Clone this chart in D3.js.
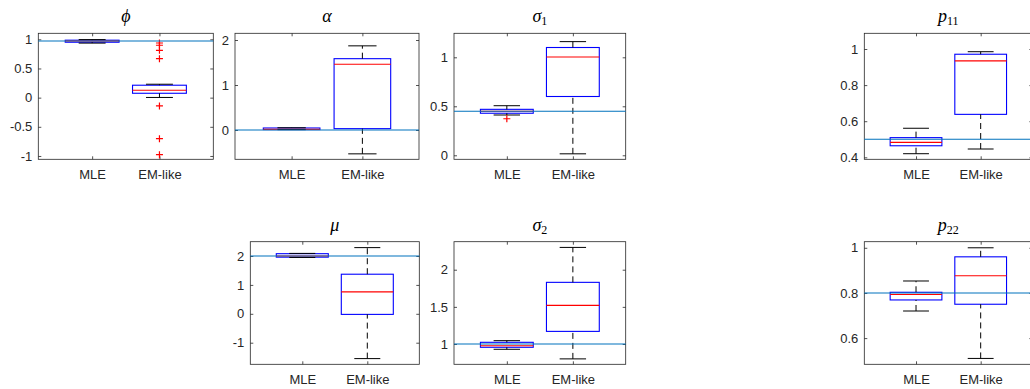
<!DOCTYPE html>
<html lang="en">
<head>
    <meta charset="UTF-8">
    <title>MLE vs EM-like</title>
    <script src="https://d3js.org/d3.v7.min.js"></script>
    <style>
        body { margin: 0; background: #fff; }
        text { font-family: "Liberation Sans", Arial, sans-serif; }
    </style>
</head>
<body>
<script type="text/javascript">
    // parameters, in panel order
    var paramNames = ["phi", "alpha", "sigma1", "p11", "mu", "sigma2", "p22"];
    var titleBase = ["\u03d5", "\u03b1", "\u03c3", "p", "\u03bc", "\u03c3", "p"];
    var titleSub = ["", "", "1", "11", "", "2", "22"];
    var groups = ["MLE", "EM-like"];
    var trueValues = [0.97, 0, 0.45, 0.5, 2, 1, 0.8];

    // [lower whisker, q1, median, q3, upper whisker]
    var mleStats = [
        [0.935, 0.95, 0.97, 0.985, 0.995],
        [0.008, 0.01, 0.015, 0.045, 0.05],
        [0.411, 0.429, 0.45, 0.469, 0.506],
        [0.42, 0.464, 0.483, 0.509, 0.561],
        [1.95, 1.96, 2.0, 2.08, 2.09],
        [0.929, 0.956, 0.977, 1.023, 1.045],
        [0.72, 0.769, 0.793, 0.803, 0.853]
    ];
    var emStats = [
        [0.003, 0.075, 0.127, 0.213, 0.23],
        [-0.53, 0.03, 1.46, 1.585, 1.87],
        [0.015, 0.60, 1.003, 1.10, 1.16],
        [0.446, 0.638, 0.934, 0.971, 0.985],
        [-1.55, -0.02, 0.76, 1.37, 2.29],
        [0.80, 1.17, 1.52, 1.83, 2.30],
        [0.51, 0.75, 0.876, 0.96, 1.0]
    ];
    var mleOutliers = [[], [], [0.373], [], [], [], []];
    var emOutliers = [[0.937, 0.898, 0.812, 0.668, -0.142, -0.703, -0.977], [], [], [], [], [], []];

    var yLimits = [
        [-1.057, 1.103], [-0.651, 2.149], [-0.041, 1.245], [0.389, 1.087],
        [-1.747, 2.495], [0.727, 2.377], [0.484, 1.027]
    ];
    var yTicks = [
        [-1, -0.5, 0, 0.5, 1], [0, 1, 2], [0, 0.5, 1], [0.4, 0.6, 0.8, 1],
        [-1, 0, 1, 2], [1, 1.5, 2], [0.6, 0.8, 1]
    ];

    // axes rectangles in pixels: left, top, right, bottom
    var panelBoxes = [
        [38.3, 33.3, 213.3, 159.3],
        [235, 33.3, 419, 159.3],
        [454, 33.3, 625.7, 159.3],
        [864.3, 33.3, 1032.4, 159.3],
        [250.3, 241.7, 419.3, 364.3],
        [454, 241.7, 625.7, 364.3],
        [864.3, 241.7, 1032.4, 364.3]
    ];

    var svgWidth = 1030;
    var svgHeight = 389;
    var axisColor = "#262626";
    var boxWidth = 0.8;
    var tickLen = 3;

    var svg = d3.select("body").append("svg")
        .attr("width", svgWidth)
        .attr("height", svgHeight);

    paramNames.forEach(function (name, i) {
        var b = panelBoxes[i];
        var xScale = d3.scaleLinear().domain([0.2, 2.8]).range([b[0], b[2]]);
        var yScale = d3.scaleLinear().domain(yLimits[i]).range([b[3], b[1]]);
        var g = svg.append("g").attr("id", name);

        // axes with inward ticks (MATLAB style)
        var yAxis = d3.axisLeft(yScale).tickValues(yTicks[i])
            .tickSize(-tickLen).tickPadding(6).tickFormat(function (d) { return String(d); });
        var yAxisR = d3.axisRight(yScale).tickValues(yTicks[i]).tickSize(-tickLen).tickFormat("");
        var xAxis = d3.axisBottom(xScale).tickValues([1, 2])
            .tickSize(-tickLen).tickPadding(10).tickFormat(function (d) { return groups[d - 1]; });
        var xAxisT = d3.axisTop(xScale).tickValues([1, 2]).tickSize(-tickLen).tickFormat("");

        g.append("g").attr("transform", "translate(" + b[0] + ",0)").call(yAxis);
        g.append("g").attr("transform", "translate(" + b[2] + ",0)").call(yAxisR);
        g.append("g").attr("transform", "translate(0," + b[3] + ")").call(xAxis);
        g.append("g").attr("transform", "translate(0," + b[1] + ")").call(xAxisT);
        g.selectAll(".domain").remove();
        g.selectAll(".tick line").attr("stroke", axisColor).attr("stroke-width", 0.8);
        g.selectAll(".tick text").attr("fill", axisColor).attr("font-size", "13px")
            .attr("font-family", "'Liberation Sans', Arial, sans-serif");

        g.append("rect")
            .attr("x", b[0]).attr("y", b[1])
            .attr("width", b[2] - b[0]).attr("height", b[3] - b[1])
            .attr("fill", "none").attr("stroke", axisColor).attr("stroke-width", 0.8);

        // boxplots
        var boxes = [
            {x: 1, s: mleStats[i], out: mleOutliers[i]},
            {x: 2, s: emStats[i], out: emOutliers[i]}
        ];
        var bp = g.selectAll(".bp").data(boxes).enter().append("g").attr("class", "bp");

        bp.append("rect")
            .attr("x", function (d) { return xScale(d.x - boxWidth / 2); })
            .attr("y", function (d) { return yScale(d.s[3]); })
            .attr("width", function (d) { return xScale(d.x + boxWidth / 2) - xScale(d.x - boxWidth / 2); })
            .attr("height", function (d) { return yScale(d.s[1]) - yScale(d.s[3]); })
            .attr("fill", "none").attr("stroke", "blue").attr("stroke-width", 1.1);
        bp.append("line") // median
            .attr("x1", function (d) { return xScale(d.x - boxWidth / 2); })
            .attr("x2", function (d) { return xScale(d.x + boxWidth / 2); })
            .attr("y1", function (d) { return yScale(d.s[2]); })
            .attr("y2", function (d) { return yScale(d.s[2]); })
            .attr("stroke", "red").attr("stroke-width", 1.1);

        bp.append("line") // lower whisker
            .attr("x1", function (d) { return xScale(d.x); })
            .attr("x2", function (d) { return xScale(d.x); })
            .attr("y1", function (d) { return yScale(d.s[0]); })
            .attr("y2", function (d) { return yScale(d.s[1]); })
            .attr("stroke", "black").attr("stroke-dasharray", "6,4");
        bp.append("line") // upper whisker
            .attr("x1", function (d) { return xScale(d.x); })
            .attr("x2", function (d) { return xScale(d.x); })
            .attr("y1", function (d) { return yScale(d.s[3]); })
            .attr("y2", function (d) { return yScale(d.s[4]); })
            .attr("stroke", "black").attr("stroke-dasharray", "6,4");
        [0, 4].forEach(function (k) {
            bp.append("line")
                .attr("x1", function (d) { return xScale(d.x - boxWidth / 4); })
                .attr("x2", function (d) { return xScale(d.x + boxWidth / 4); })
                .attr("y1", function (d) { return yScale(d.s[k]); })
                .attr("y2", function (d) { return yScale(d.s[k]); })
                .attr("stroke", "black");
        });

        bp.each(function (d) {
            d3.select(this).selectAll(".out").data(d.out).enter().append("path")
                .attr("class", "out")
                .attr("d", function (v) {
                    var cx = xScale(d.x), cy = yScale(v);
                    return "M" + (cx - 3.5) + "," + cy + "H" + (cx + 3.5) +
                        "M" + cx + "," + (cy - 3.5) + "V" + (cy + 3.5);
                })
                .attr("stroke", "red").attr("stroke-width", 1.2);
        });

        // true value line
        g.append("line")
            .attr("x1", b[0]).attr("x2", b[2])
            .attr("y1", yScale(trueValues[i])).attr("y2", yScale(trueValues[i]))
            .attr("stroke", "#0072BD").attr("stroke-width", 1.1);

        // title
        var title = g.append("text")
            .attr("x", (b[0] + b[2]) / 2)
            .attr("y", b[1] - 11)
            .attr("text-anchor", "middle")
            .attr("fill", "black")
            .style("font-family", "'Liberation Serif', 'DejaVu Serif', serif");
        title.append("tspan").attr("font-size", "18px").attr("font-style", "italic").text(titleBase[i]);
        if (titleSub[i]) {
            title.append("tspan").attr("font-size", "12px").attr("dy", 3).text(titleSub[i]);
        }
    });
</script>
</body>
</html>
